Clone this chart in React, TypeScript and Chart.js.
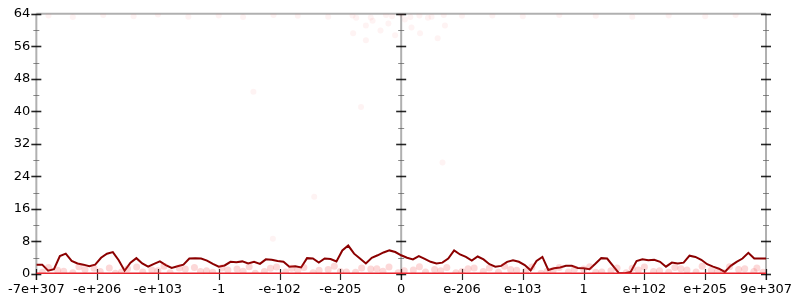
import React, { useEffect, useRef } from "react";
import { Chart, registerables } from "chart.js";

Chart.register(...registerables);

const xTickLabels = ["-7e+307", "-e+206", "-e+103", "-1", "-e-102", "-e-205", "0", "e-206", "e-103", "1", "e+102", "e+205", "9e+307"];
const yTicks = [0, 8, 16, 24, 32, 40, 48, 56, 64];

const walkValues = [
  2.3, 2.3, 0.8, 1.2, 4.4, 5.0, 3.2, 2.6, 2.3, 1.9, 2.3, 4.0, 5.0, 5.4, 3.4, 0.8, 2.8, 3.9, 2.6, 1.8, 2.5, 3.1, 2.2, 1.5, 1.9, 2.3, 3.8, 3.9, 3.8, 3.3, 2.5,
  1.8, 2.1, 3.0, 2.9, 3.1, 2.6, 3.0, 2.5, 3.6, 3.5, 3.2, 3.0, 1.8, 1.9, 1.6, 3.9, 3.8, 2.8, 3.8, 3.7, 3.1, 5.8, 7.0, 5.0, 3.8, 2.6, 4.0, 4.6, 5.3, 5.8, 5.4, 4.6,
  4.0, 3.6, 4.4, 3.7, 3.0, 2.6, 2.8, 3.8, 5.8, 4.8, 4.2, 3.3, 4.3, 3.6, 2.4, 1.8, 2.0, 3.0, 3.4, 3.0, 2.2, 0.9, 3.2, 4.2, 1.0, 1.4, 1.6, 2.0, 2.0, 1.5, 1.4, 1.2,
  2.5, 3.9, 3.8, 2.0, 0.2, 0.2, 0.5, 3.2, 3.6, 3.4, 3.5, 3.0, 1.8, 2.8, 2.6, 2.8, 4.5, 4.2, 3.5, 2.4, 1.8, 1.3, 0.5, 2.0, 3.0, 3.8, 5.2, 3.8, 3.8, 3.8,
];

const bandX = [
  0.1, 0.35, 0.6, 0.8, 1.05, 1.3, 1.5, 1.75, 2.0, 2.2, 2.45, 2.7, 2.9, 3.15, 3.4, 3.6, 3.85, 4.1, 4.3, 4.55, 4.8, 5.0, 5.25, 5.5, 5.7, 5.95,
  6.2, 6.4, 6.65, 6.9, 7.1, 7.35, 7.6, 7.8, 8.05, 8.3, 8.5, 8.75, 9.0, 9.2, 9.45, 9.7, 9.9, 10.15, 10.4, 10.6, 10.85, 11.1, 11.3, 11.55, 11.8, 11.95,
  0.2, 0.7, 1.2, 1.65, 2.1, 2.6, 3.05, 3.5, 3.95, 4.4, 4.9, 5.35, 5.8, 6.3, 6.75, 7.2, 7.7, 8.15, 8.6, 9.1, 9.55, 10.0, 10.5, 10.95, 11.4, 11.85,
  0.45, 0.95, 1.4, 1.9, 2.35, 2.8, 3.3, 3.75, 4.2, 4.65, 5.1, 5.6, 6.05, 6.55, 7.0, 7.45, 7.9, 8.4, 8.85, 9.3, 9.8, 10.25, 10.7, 11.2, 11.65,
];
const bandY = [
  0.4, 0.9, 0.3, 1.1, 0.6, 0.2, 1.3, 0.5, 0.8, 0.3, 1.2, 0.6, 0.4, 1.0, 0.7, 0.2, 1.4, 0.5, 0.9, 0.3, 1.1, 0.6, 0.4, 1.2, 0.7, 0.3,
  1.0, 0.5, 0.8, 0.3, 1.3, 0.6, 0.4, 1.1, 0.7, 0.2, 0.9, 0.5, 1.2, 0.4, 0.8, 0.3, 1.0, 0.6, 0.4, 1.3, 0.5, 0.9, 0.3, 1.1, 0.6, 0.4,
  1.6, 1.8, 1.5, 1.7, 1.9, 1.6, 1.5, 1.8, 1.7, 1.6, 1.9, 1.5, 1.7, 1.8, 1.6, 1.5, 1.9, 1.7, 1.6, 1.8, 1.5, 1.7, 1.6, 1.9, 1.8, 1.5,
  0.7, 1.4, 0.5, 1.0, 1.5, 0.8, 1.2, 0.6, 1.4, 0.9, 0.5, 1.3, 0.8, 1.1, 0.6, 1.5, 0.9, 0.7, 1.2, 0.5, 1.4, 0.8, 1.0, 0.6, 1.3,
];
const topX = [0.2, 0.6, 1.1, 1.6, 2.0, 2.5, 3.0, 3.4, 3.9, 4.3, 4.8, 5.2, 5.5, 5.75, 5.85, 6.0, 6.15, 6.3, 6.5, 6.7, 7.0, 7.5, 8.0, 8.6, 9.2, 9.8, 10.4, 11.0, 11.5,
  5.26, 5.42, 5.53, 5.66, 5.79, 5.9, 6.06, 6.17, 6.31, 6.44, 6.6, 6.72, 5.42, 5.21, 3.57, 5.34, 6.68, 3.89, 4.57];
const topY = [63.6, 63.2, 63.7, 63.4, 63.8, 63.3, 63.6, 63.2, 63.7, 63.5, 63.3, 63.6, 63.1, 63.7, 63.4, 63.8, 63.2, 63.6, 63.3, 63.7, 63.5, 63.6, 63.4, 63.7, 63.5, 63.3, 63.6, 63.4, 63.7,
  63.0, 61.1, 62.3, 59.9, 61.6, 58.7, 62.6, 60.6, 59.2, 63.0, 58.0, 61.1, 57.5, 59.2, 44.8, 41.1, 27.4, 8.7, 19.0];

const axisPlugin = {
  id: "flotAxes",
  beforeDatasetsDraw(chart: any) {
    const { ctx, chartArea: a, scales } = chart;
    const xs = scales.x, ys = scales.y;
    ctx.save();
    ctx.strokeStyle = "rgba(150,150,150,0.75)";
    ctx.lineWidth = 2;
    const axisXs = [xs.getPixelForValue(0), xs.getPixelForValue(6), xs.getPixelForValue(12)];
    ctx.beginPath();
    for (const px of axisXs) {
      ctx.moveTo(px, a.top);
      ctx.lineTo(px, a.bottom + 6);
    }
    ctx.moveTo(a.left, a.top);
    ctx.lineTo(a.right, a.top);
    ctx.stroke();
    for (const px of axisXs) {
      for (let v = 0; v <= 64; v += 4) {
        const py = Math.round(ys.getPixelForValue(v)) + 0.5;
        const major = v % 8 === 0;
        ctx.strokeStyle = major ? "rgba(0,0,0,0.85)" : "rgba(90,90,90,0.7)";
        ctx.lineWidth = major ? 1.6 : 1;
        const h = major ? 5 : 3;
        ctx.beginPath();
        ctx.moveTo(px - h, py);
        ctx.lineTo(px + h, py);
        ctx.stroke();
      }
    }
    ctx.strokeStyle = "rgba(0,0,0,0.85)";
    ctx.lineWidth = 1.2;
    for (let i = 0; i <= 12; i++) {
      const px = Math.round(xs.getPixelForValue(i)) + 0.5;
      ctx.beginPath();
      ctx.moveTo(px, a.bottom - 5);
      ctx.lineTo(px, a.bottom + 6);
      ctx.stroke();
    }
    ctx.restore();
  },
};

export default function App() {
  const ref = useRef<HTMLCanvasElement | null>(null);
  useEffect(() => {
    document.body.style.margin = "0";
    const n = walkValues.length;
    const walk = walkValues.map((v, i) => ({ x: (i * 12) / (n - 1), y: v }));
    const band = bandX.map((x, i) => ({ x, y: bandY[i] }));
    const top = topX.map((x, i) => ({ x, y: topY[i] }));
    const chart = new Chart(ref.current as HTMLCanvasElement, {
      type: "scatter",
      data: {
        datasets: [
          {
            data: band,
            pointRadius: 3.5,
            pointBorderWidth: 0,
            pointBackgroundColor: "rgba(240,60,60,0.2)",
            showLine: false,
          },
          {
            data: top,
            pointRadius: 3,
            pointBorderWidth: 0,
            pointBackgroundColor: "rgba(240,80,80,0.07)",
            showLine: false,
          },
          {
            data: [{ x: 0, y: 0 }, { x: 12, y: 0 }],
            showLine: true,
            borderColor: "#e8222c",
            borderWidth: 3,
            pointRadius: 0,
          },
          {
            data: walk,
            showLine: true,
            borderColor: "#8b0000",
            borderWidth: 2,
            pointRadius: 0,
            tension: 0,
          },
        ],
      },
      options: {
        animation: false,
        responsive: false,
        events: [],
        layout: { padding: { top: 8, right: 26, left: 0, bottom: 0 } },
        plugins: { legend: { display: false }, tooltip: { enabled: false } },
        scales: {
          x: {
            type: "linear",
            min: 0,
            max: 12,
            grid: { display: false, drawTicks: false },
            border: { display: false },
            afterFit: (s: any) => { s.height = 26; },
            afterBuildTicks: (s: any) => { s.ticks = xTickLabels.map((_, i) => ({ value: i })); },
            ticks: {
              autoSkip: false,
              maxRotation: 0,
              padding: 8,
              color: "#000",
              font: { family: "DejaVu Sans", size: 13 },
              callback: (v: any) => xTickLabels[Math.round(Number(v))] ?? "",
            },
          },
          y: {
            type: "linear",
            min: 0,
            max: 64,
            grid: { display: false, drawTicks: false },
            border: { display: false },
            afterFit: (s: any) => { s.width = 28; },
            afterBuildTicks: (s: any) => { s.ticks = yTicks.map((v) => ({ value: v })); },
            ticks: {
              padding: 6,
              color: "#000",
              font: { family: "DejaVu Sans", size: 13 },
            },
          },
        },
      },
      plugins: [axisPlugin],
    } as any);
    return () => chart.destroy();
  }, []);
  return <canvas ref={ref} width={800} height={300} style={{ display: "block" }} />;
}
